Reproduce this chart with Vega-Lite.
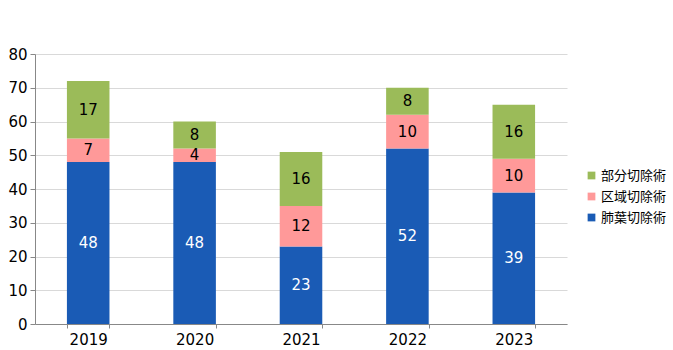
{
  "$schema": "https://vega.github.io/schema/vega-lite/v6.json",
  "width": 532,
  "height": 270,
  "autosize": {"type": "none"},
  "padding": {"left": 35, "top": 54, "right": 106, "bottom": 26},
  "background": "white",
  "config": {
    "font": "DejaVu Sans",
    "view": {"stroke": null}
  },
  "data": {
    "values": [
      {"year": "2019", "type": "肺葉切除術", "value": 48, "ord": 1},
      {"year": "2019", "type": "区域切除術", "value": 7, "ord": 2},
      {"year": "2019", "type": "部分切除術", "value": 17, "ord": 3},
      {"year": "2020", "type": "肺葉切除術", "value": 48, "ord": 1},
      {"year": "2020", "type": "区域切除術", "value": 4, "ord": 2},
      {"year": "2020", "type": "部分切除術", "value": 8, "ord": 3},
      {"year": "2021", "type": "肺葉切除術", "value": 23, "ord": 1},
      {"year": "2021", "type": "区域切除術", "value": 12, "ord": 2},
      {"year": "2021", "type": "部分切除術", "value": 16, "ord": 3},
      {"year": "2022", "type": "肺葉切除術", "value": 52, "ord": 1},
      {"year": "2022", "type": "区域切除術", "value": 10, "ord": 2},
      {"year": "2022", "type": "部分切除術", "value": 8, "ord": 3},
      {"year": "2023", "type": "肺葉切除術", "value": 39, "ord": 1},
      {"year": "2023", "type": "区域切除術", "value": 10, "ord": 2},
      {"year": "2023", "type": "部分切除術", "value": 16, "ord": 3}
    ]
  },
  "transform": [
    {"stack": "value", "groupby": ["year"], "sort": [{"field": "ord", "order": "ascending"}], "as": ["y0", "y1"]},
    {"calculate": "(datum.y0 + datum.y1) / 2", "as": "ymid"}
  ],
  "encoding": {
    "x": {
      "field": "year",
      "type": "nominal",
      "scale": {"paddingInner": 0.6, "paddingOuter": 0.3},
      "axis": {
        "title": null,
        "labelAngle": 0,
        "labelFontSize": 15,
        "labelColor": "#000",
        "labelPadding": 4,
        "tickBand": "extent",
        "tickSize": 4,
        "tickColor": "#888",
        "domainColor": "#888",
        "grid": false
      }
    }
  },
  "layer": [
    {
      "mark": {"type": "bar"},
      "encoding": {
        "y": {
          "field": "y0",
          "type": "quantitative",
          "scale": {"domain": [0, 80]},
          "axis": {
            "title": null,
            "values": [0, 10, 20, 30, 40, 50, 60, 70, 80],
            "labelOverlap": false,
            "labelFontSize": 15,
            "labelColor": "#000",
            "labelPadding": 3,
            "tickSize": 5,
            "tickColor": "#888",
            "domainColor": "#888",
            "gridColor": "#d9d9d9"
          }
        },
        "y2": {"field": "y1"},
        "color": {
          "field": "type",
          "type": "nominal",
          "scale": {
            "domain": ["部分切除術", "区域切除術", "肺葉切除術"],
            "range": ["#9bbb59", "#ff9999", "#1a5bb5"]
          },
          "legend": {
            "title": null,
            "orient": "none",
            "legendX": 550,
            "legendY": 115,
            "symbolType": "square",
            "symbolSize": 60,
            "symbolStrokeWidth": 0,
            "labelFont": "Noto Sans CJK JP",
            "labelFontSize": 13,
            "labelColor": "#000",
            "rowPadding": 7,
            "labelOffset": 3
          }
        }
      }
    },
    {
      "mark": {"type": "text", "fontSize": 15, "baseline": "middle", "align": "center"},
      "encoding": {
        "y": {
          "field": "ymid",
          "type": "quantitative",
          "axis": {
            "title": null,
            "values": [0, 10, 20, 30, 40, 50, 60, 70, 80],
            "labelOverlap": false,
            "labelFontSize": 15,
            "labelColor": "#000",
            "labelPadding": 3,
            "tickSize": 5,
            "tickColor": "#888",
            "domainColor": "#888",
            "gridColor": "#d9d9d9"
          }
        },
        "text": {"field": "value", "type": "quantitative"},
        "color": {
          "condition": {"test": "datum.type === '肺葉切除術'", "value": "white"},
          "value": "black"
        }
      }
    }
  ]
}
